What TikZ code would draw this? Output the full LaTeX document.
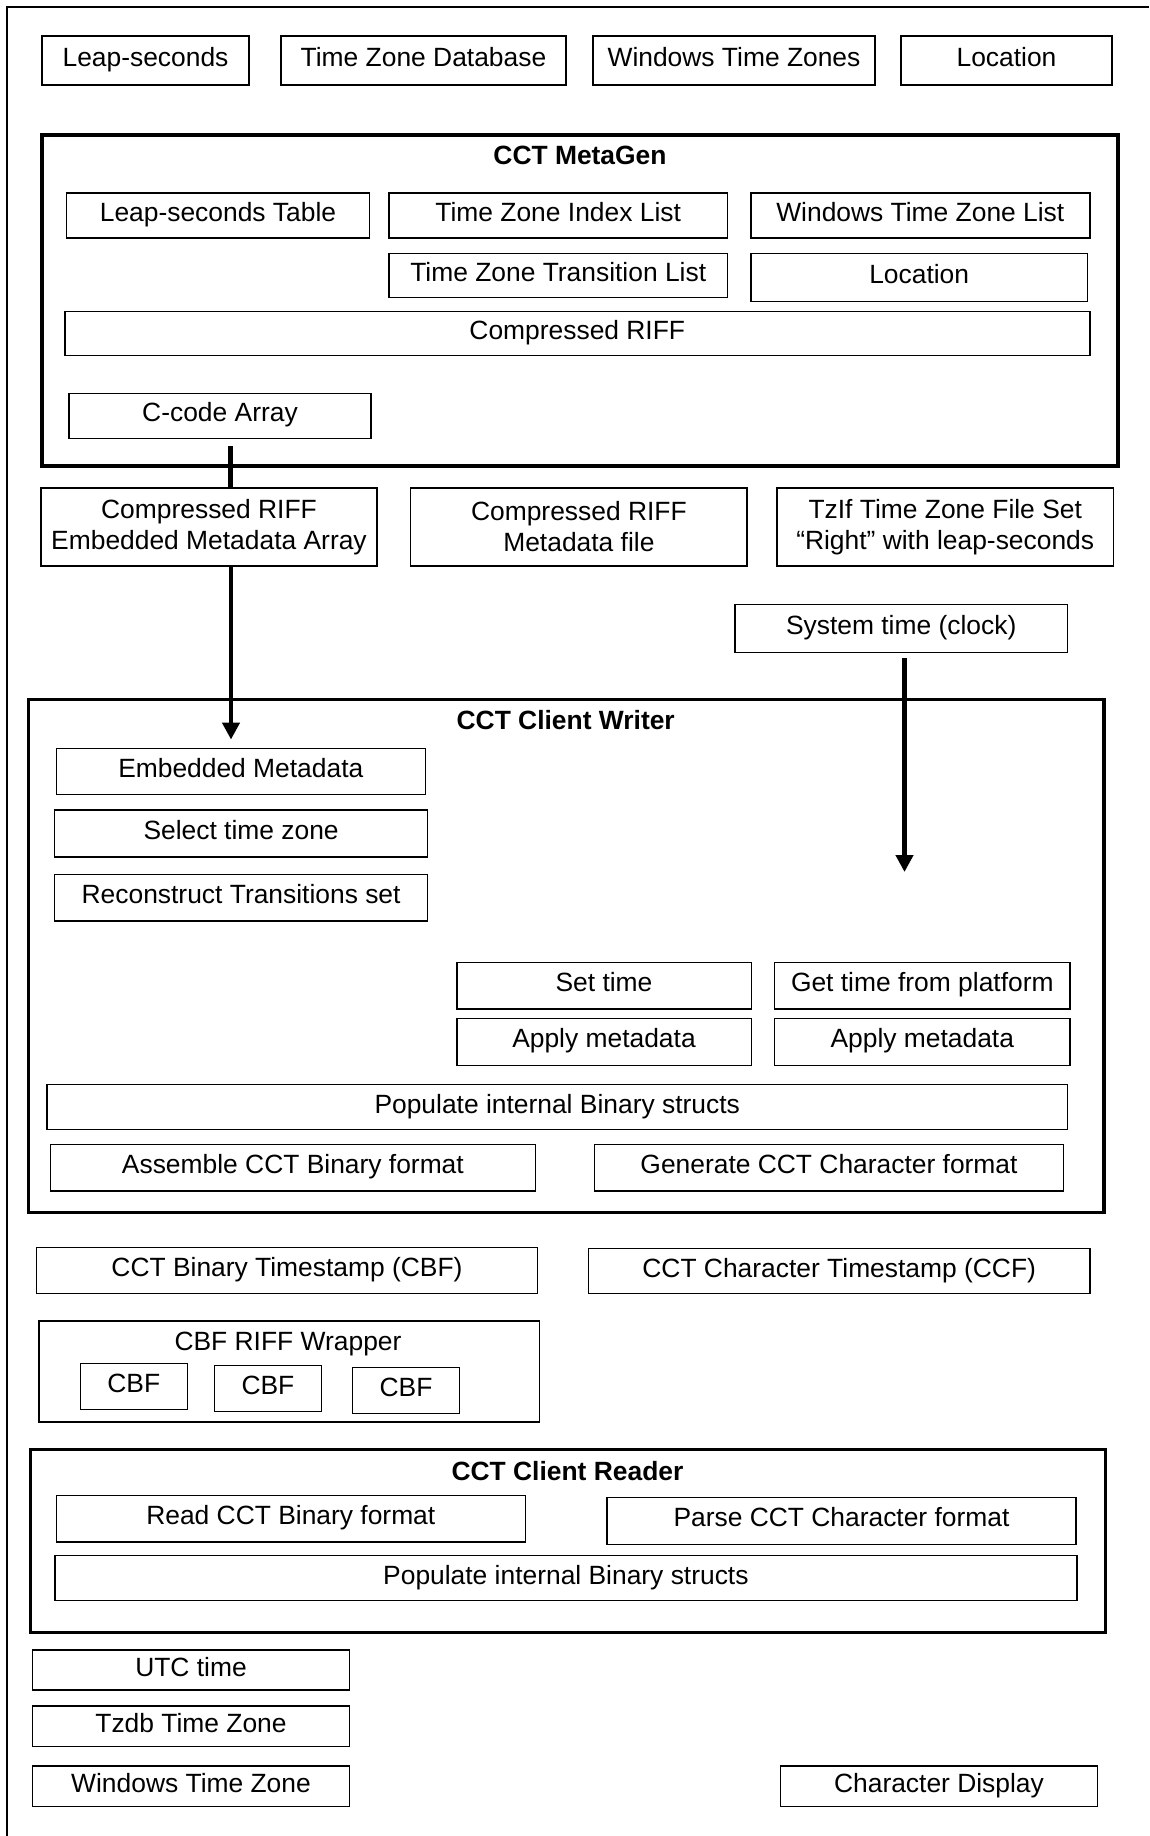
\documentclass[tikz,border=0pt]{standalone}
\usepackage{fontspec}
\setmainfont{Liberation Sans}
\usetikzlibrary{arrows.meta}

\begin{document}
\begin{tikzpicture}[
        x=1pt, y=-1pt,
        box/.style={
            draw,
            line width=1.5pt,
            inner sep=0pt,
            align=center,
            font=\fontsize{26.4}{31}\selectfont
        },
        cell/.style={box, text height=19pt, text depth=7pt},
        group/.style={draw, line width=3.3pt, inner sep=0pt},
        grouptitle/.style={anchor=base, font=\fontsize{26.4}{31}\selectfont\bfseries},
        link/.style={line width=4.6pt},
        flow/.style={link, -{Triangle[length=17pt, width=17pt]}}
    ]
        \useasboundingbox (0,0) rectangle (1149,1836);
        \draw[line width=1.8pt] (7,1836) -- (7,7) -- (1149,7);

        % Sources
        \foreach \name/\cx/\bw/\txt in {leap/145.5/207/Leap-seconds, tzdb/423.5/285/Time Zone Database,
            wintz/734/282/Windows Time Zones, loc/1006.5/211/Location} {
            \node[cell, minimum width=\bw pt, minimum height=49pt] (\name) at (\cx,60.5) {\txt};
        }

        % CCT MetaGen
        \node[group, minimum width=1076pt, minimum height=331pt] (metagen) at (580,300.5) {};
        \node[grouptitle] (metagenT) at (580,164) {CCT MetaGen};
        \foreach \name/\cx/\cy/\bw/\bh/\txt in {
            lstab/218/215.5/302.7/45/Leap-seconds Table,
            tzidx/558.2/215.5/338.8/45/Time Zone Index List,
            wintzl/920.3/215.5/338.9/45/Windows Time Zone List,
            tztrans/558.2/275.5/338.8/44.4/Time Zone Transition List,
            locin/919.2/277.5/336.6/48.4/Location,
            riff/577.3/333.7/1025.1/44/Compressed RIFF,
            ccode/220/415.8/302.3/45/C-code Array} {
            \node[cell, minimum width=\bw pt, minimum height=\bh pt] (\name) at (\cx,\cy) {\txt};
        }

        % Metadata outputs
        \foreach \name/\cx/\bw/\txt in {
            embarr/209/336/{Compressed RIFF\\Embedded Metadata Array},
            metafile/578.9/336.5/{Compressed RIFF\\Metadata file},
            tzif/945.2/336.6/{TzIf Time Zone File Set\\“Right” with leap-seconds}} {
            \node[box, minimum width=\bw pt, minimum height=78pt] (\name) at (\cx,527) {\txt};
        }
        \node[cell, minimum width=332.7pt, minimum height=47.7pt] (sys) at (901.2,628.4) {System time (clock)};

        % CCT Client Writer
        \node[group, minimum width=1075.8pt, minimum height=513pt] (writer) at (566.1,956) {};
        \node[grouptitle] (writerT) at (565.7,729.3) {CCT Client Writer};
        \foreach \name/\cx/\cy/\bw/\bh/\txt in {
            embmeta/240.8/771.3/368.9/46/Embedded Metadata,
            seltz/241.1/833.4/372.8/46.7/Select time zone,
            recon/241.1/897.7/372.8/46.7/Reconstruct Transitions set,
            settime/604/985.7/294.5/46.4/Set time,
            gettime/922.3/985.7/295.3/46.4/Get time from platform,
            applyA/604/1041.8/294.5/46.9/Apply metadata,
            applyB/922.3/1041.8/295.3/46.9/Apply metadata,
            popW/557.2/1107/1020.8/45.1/Populate internal Binary structs,
            assemble/292.9/1167.8/484.9/46.4/Assemble CCT Binary format,
            generate/829/1167.8/468.6/46.4/Generate CCT Character format} {
            \node[cell, minimum width=\bw pt, minimum height=\bh pt] (\name) at (\cx,\cy) {\txt};
        }

        % Timestamps
        \node[cell, minimum width=500.6pt, minimum height=45.8pt] (cbfts) at (287,1270.4) {CCT Binary Timestamp (CBF)};
        \node[cell, minimum width=501.2pt, minimum height=45pt] (ccfts) at (839.2,1271.2) {CCT Character Timestamp (CCF)};
        \node[box, minimum width=500.9pt, minimum height=101pt] (wrapper) at (289.2,1371.4) {};
        \node[box, draw=none, anchor=base] (wrapperT) at (288,1350) {CBF RIFF Wrapper};
        \foreach \cx/\cy [count=\i] in {133.8/1386.6, 267.9/1388.6, 406/1390.6} {
            \node[cell, minimum width=107pt, minimum height=46.2pt] (cbf\i) at (\cx,\cy) {CBF};
        }

        % CCT Client Reader
        \node[group, minimum width=1075.6pt, minimum height=183pt] (reader) at (568,1541) {};
        \node[grouptitle] (readerT) at (567.5,1480) {CCT Client Reader};
        \foreach \name/\cx/\cy/\bw/\bh/\txt in {
            readbin/290.8/1518.8/469.1/46.2/Read CCT Binary format,
            parse/841.5/1520.9/469.1/47.1/Parse CCT Character format,
            popR/565.9/1578/1022.3/44.6/Populate internal Binary structs} {
            \node[cell, minimum width=\bw pt, minimum height=\bh pt] (\name) at (\cx,\cy) {\txt};
        }

        % Results
        \foreach \name/\cx/\cy/\bh/\txt in {
            utc/191/1670.1/39.8/UTC time,
            tzdbz/191/1726.1/40.6/Tzdb Time Zone,
            winz/191/1786.1/40.6/Windows Time Zone,
            chardisp/939/1786.1/40.6/Character Display} {
            \node[cell, minimum width=316.8pt, minimum height=\bh pt] (\name) at (\cx,\cy) {\txt};
        }

        % Connections
        \draw[link] ([xshift=10.4pt, yshift=-6.7pt]ccode.south) -- ([xshift=10.4pt]ccode.south |- embarr.north);
        \draw[flow, shorten >=8pt] ([xshift=22pt]embarr.south) -- ([xshift=22pt]embarr.south |- embmeta.north);
        \coordinate (systip) at (904.5,872);
        \draw[flow] ([yshift=-5.4pt]sys.south -| systip) -- (systip);
    \end{tikzpicture}
\end{document}
